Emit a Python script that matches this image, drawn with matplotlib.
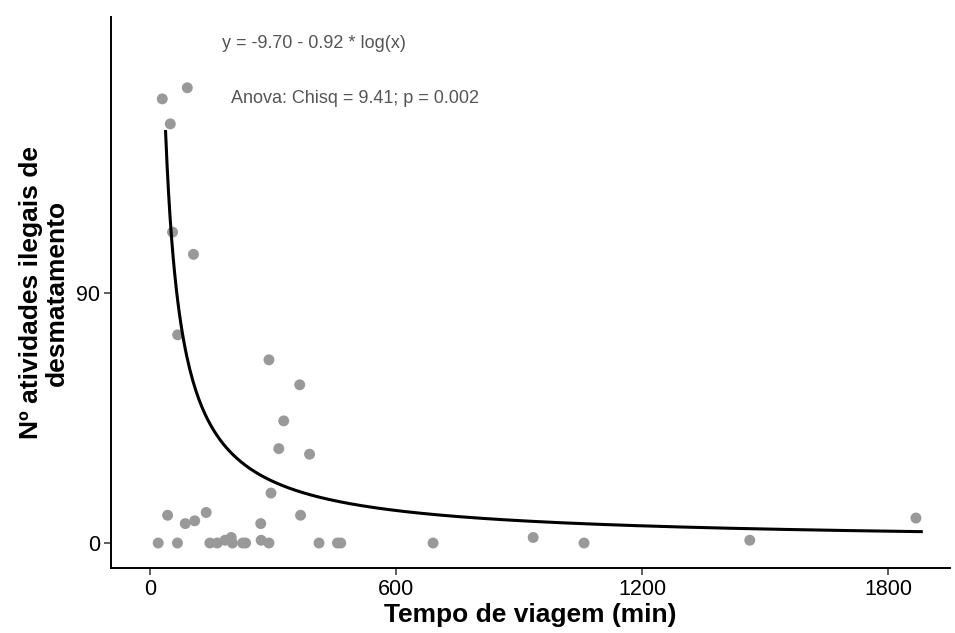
import numpy as np
import matplotlib
matplotlib.use("Agg")
import matplotlib.pyplot as plt

plt.rcParams['font.family'] = ['Liberation Sans', 'DejaVu Sans']

# observed points (tempo de viagem, n. atividades)
tempo = [30, 91, 49.5, 55, 106, 67.5, 290, 365, 326, 314, 389, 295, 43, 367, 137,
         86, 109, 270, 198, 183, 20, 67, 146, 164, 201, 226, 233, 271, 290, 412,
         457, 465, 690, 934, 1058, 1462, 1867]
atividades = [160, 164, 151, 112, 104, 75, 66, 57, 44, 34, 32, 18, 10, 10, 11,
              7, 8, 7, 2, 1, 0, 0, 0, 0, 0, 0, 0, 1, 0, 0,
              0, 0, 0, 2, 0, 1, 9]

# fitted power curve y = a * x^b
coef_a = 4211
coef_b = -0.92
curve_range = (38, 1880)

eq_text = "y = -9.70 - 0.92 * log(x)"
anova_text = "Anova: Chisq = 9.41; p = 0.002"

fig = plt.figure(figsize=(9.55, 6.33), dpi=100)
ax = fig.add_axes([111/955, 1 - 568/633, (950 - 111)/955, (568 - 17)/633])

ax.scatter(tempo, atividades, s=62, color='#999999', edgecolors='none', zorder=2)

xc = np.linspace(curve_range[0], curve_range[1], 500)
ax.plot(xc, coef_a * xc ** coef_b, color='black', lw=2.2, zorder=3)

ax.text(399, 180, eq_text, ha='center', va='center', fontsize=13, color='#555555')
ax.text(500, 160, anova_text, ha='center', va='center', fontsize=13, color='#555555')

ax.set_xlim(-95, 1950)
ax.set_ylim(-9, 189.5)
ax.set_xticks([0, 600, 1200, 1800])
ax.set_yticks([0, 90])
ax.tick_params(labelsize=15.5, length=5, width=1.1, color='#333333', labelcolor='black', pad=3)

for side in ['top', 'right']:
    ax.spines[side].set_visible(False)
for side in ['left', 'bottom']:
    ax.spines[side].set_linewidth(1.4)

ax.set_xlabel("Tempo de viagem (min)", fontsize=19, fontweight='bold', labelpad=2)
ax.set_ylabel("Nº atividades ilegais de\ndesmatamento", fontsize=19, fontweight='bold',
              labelpad=5, linespacing=1.1)

fig.savefig("out.png", dpi=100)
